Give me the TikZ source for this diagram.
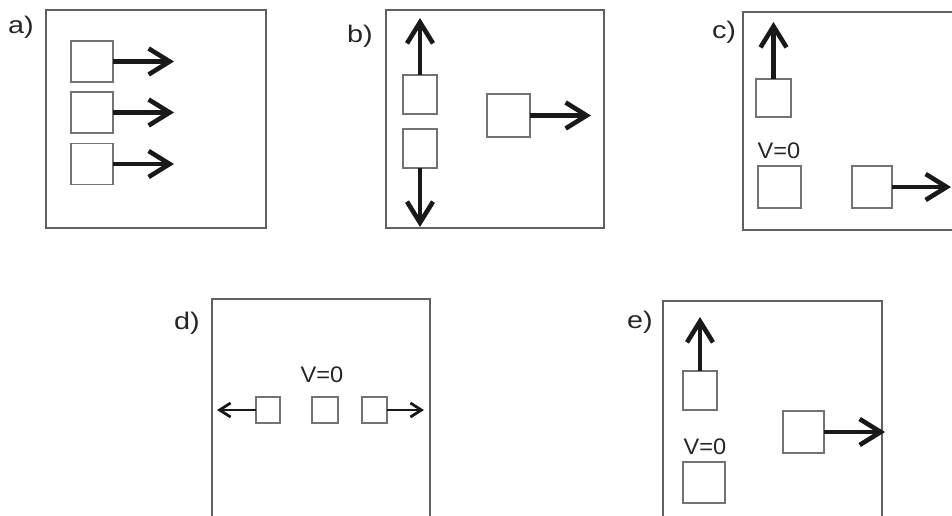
\documentclass[tikz,border=0pt]{standalone}
\usepackage{fontspec}
\setmainfont{Liberation Sans}
\usetikzlibrary{arrows.meta}
\begin{document}
\begin{tikzpicture}[x=1pt,y=-1pt,
  frame/.style={draw=black!62, line width=1.8pt},
  cell/.style={draw=black!55, line width=1.4pt, inner sep=0pt, outer sep=0pt},
  push/.style={draw=black!90, line width=4.6pt, -{Straight Barb[length=21pt,width=26pt]}},
  pushs/.style={draw=black!90, line width=2.8pt, -{Straight Barb[length=11pt,width=14pt]}},
  lab/.style={inner sep=0pt, text=black!85, font=\fontsize{24}{24}\selectfont},
  vzero/.style={inner sep=0pt, text=black!85, font=\fontsize{22.5}{22.5}\selectfont}]
\useasboundingbox (0,0) rectangle (952,515);
\clip (0,0) rectangle (952,515);
% ---- a)
\draw[frame] (46,10) rectangle (266,228);
\node[lab] (la) at (21,27) {\scalebox{1.2}[1]{a)}};
\node[cell, minimum width=42pt, minimum height=41pt] (a1) at (92,61.5) {};
\node[cell, minimum width=42pt, minimum height=41pt] (a2) at (92,112.5) {};
\node[cell, minimum width=42pt, minimum height=41pt] (a3) at (92,164) {};
\coordinate (ta1) at (174,61.5);
\coordinate (ta2) at (174,112.5);
\coordinate (ta3) at (174,164);
\draw[push] (a1.east) -- (ta1);
\draw[push] (a2.east) -- (ta2);
\draw[push] (a3.east) -- (ta3);
% ---- b)
\draw[frame] (386,10) rectangle (604,228);
\node[lab] (lb) at (360,36) {\scalebox{1.2}[1]{b)}};
\node[cell, minimum width=34pt, minimum height=39pt] (b1) at (420,94.5) {};
\node[cell, minimum width=34pt, minimum height=39pt] (b2) at (420,148.5) {};
\node[cell, minimum width=43pt, minimum height=43pt] (b3) at (508.5,115.5) {};
\coordinate (tb1) at (420,18);
\coordinate (tb2) at (420,227);
\coordinate (tb3) at (591,115.5);
\draw[push] (b1.north) -- (tb1);
\draw[push] (b2.south) -- (tb2);
\draw[push] (b3.east) -- (tb3);
% ---- c)
\draw[frame] (743,12) rectangle (975,230);
\node[lab] (lc) at (724,32) {\scalebox{1.2}[1]{c)}};
\node[cell, minimum width=35pt, minimum height=38pt] (c1) at (773.5,98) {};
\node[vzero] (vc) at (779,151) {\scalebox{1.05}[1]{V=0}};
\node[cell, minimum width=43pt, minimum height=42pt] (c2) at (779.5,187) {};
\node[cell, minimum width=40pt, minimum height=42pt] (c3) at (872,187) {};
\coordinate (tc1) at (773.5,22);
\coordinate (tc3) at (951,187);
\draw[push] (c1.north) -- (tc1);
\draw[push] (c3.east) -- (tc3);
% ---- d)
\draw[frame] (212,299) rectangle (430,530);
\node[lab] (ld) at (187,323) {\scalebox{1.2}[1]{d)}};
\node[vzero] (vd) at (322,375) {\scalebox{1.05}[1]{V=0}};
\node[cell, minimum width=24pt, minimum height=26pt] (d1) at (268,410) {};
\node[cell, minimum width=26pt, minimum height=26pt] (d2) at (325,410) {};
\node[cell, minimum width=25pt, minimum height=26pt] (d3) at (374.5,410) {};
\coordinate (td1) at (217,410);
\coordinate (td3) at (424,410);
\draw[pushs] (d1.west) -- (td1);
\draw[pushs] (d3.east) -- (td3);
% ---- e)
\draw[frame] (663,301) rectangle (882,530);
\node[lab] (le) at (640,322) {\scalebox{1.2}[1]{e)}};
\node[cell, minimum width=34pt, minimum height=39pt] (e1) at (700,390.5) {};
\node[vzero] (ve) at (705,447) {\scalebox{1.05}[1]{V=0}};
\node[cell, minimum width=42pt, minimum height=41pt] (e2) at (704,482.5) {};
\node[cell, minimum width=41pt, minimum height=42pt] (e3) at (803.5,432) {};
\coordinate (te1) at (700,317);
\coordinate (te3) at (885,432);
\draw[push] (e1.north) -- (te1);
\draw[push] (e3.east) -- (te3);
\end{tikzpicture}
\end{document}
